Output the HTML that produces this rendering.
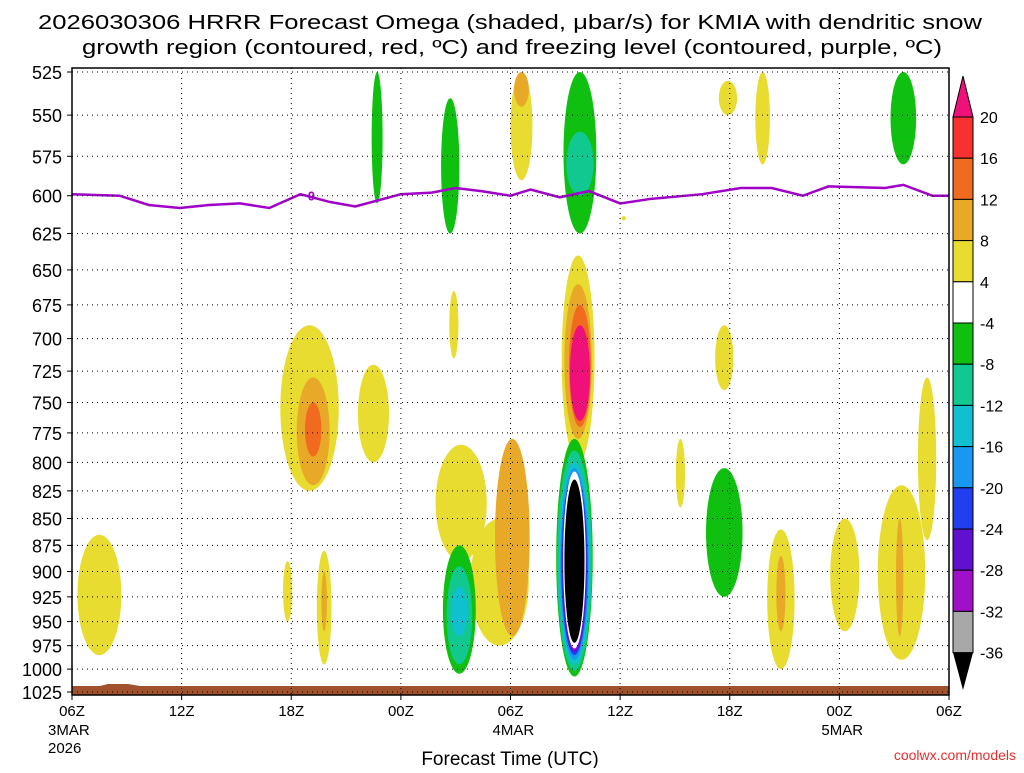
<!DOCTYPE html>
<html><head><meta charset="utf-8"><style>
body{margin:0;background:#fff;font-family:"Liberation Sans",sans-serif}
</style></head><body>
<svg id="c" width="1024" height="768" xmlns="http://www.w3.org/2000/svg">
<text x="510" y="29" font-size="20" text-anchor="middle" textLength="944" lengthAdjust="spacingAndGlyphs">2026030306 HRRR Forecast Omega (shaded, μbar/s) for KMIA with dendritic snow</text>
<text x="512" y="54" font-size="20" text-anchor="middle" textLength="860" lengthAdjust="spacingAndGlyphs">growth region (contoured, red, ºC) and freezing level (contoured, purple, ºC)</text>
<text x="510" y="765" font-size="19" text-anchor="middle">Forecast Time (UTC)</text>
<text x="1016" y="760" font-size="14" fill="#e03030" text-anchor="end">coolwx.com/models</text>
<g id="plot"></g>
</svg>
<script>
const hours=[0,6,12,18,24,30,36,42,48];
const hourLabels=["06Z","12Z","18Z","00Z","06Z","12Z","18Z","00Z","06Z"];
const pLevels=[525,550,575,600,625,650,675,700,725,750,775,800,825,850,875,900,925,950,975,1000,1025];
// blobs: hour center, top pressure, bottom pressure, half width (h), value
const blobHour=[1.5,13,13.2,13.2,16.5,21.3,23.4,24.1,21.2,21.2,21.2,16.7,20.7,24.6,24.6,27.7,27.7,27.8,27.8,27.8,27.8,27.5,27.5,27.5,27.5,27.5,27.5,27.5,35.7,38.8,38.8,42.3,45.4,46.8,45.5,45.3,35.9,35.7,33.3,20.9,11.8,13.8,13.8,37.8,30.2];
const blobPTop=[865,690,730,750,720,785,850,780,875,895,915,525,540,525,525,640,660,675,690,525,560,780,790,800,805,810,815,818,805,860,885,850,820,730,525,850,530,690,780,665,890,880,900,525,630];
const blobPBot=[985,825,820,795,800,890,975,965,1005,995,965,605,625,590,545,800,780,770,765,625,600,1008,1002,995,990,985,982,980,925,1000,960,960,990,870,580,965,550,740,840,715,950,995,960,580,600];
const blobHalfW=[1.2,1.6,0.9,0.45,0.85,1.4,1.6,0.95,0.9,0.7,0.45,0.3,0.5,0.6,0.4,0.9,0.75,0.6,0.55,0.9,0.75,1.0,0.95,0.85,0.78,0.72,0.66,0.6,1.0,0.75,0.25,0.8,1.3,0.5,0.7,0.2,0.5,0.5,0.25,0.25,0.25,0.4,0.15,0.4,0.12];
const blobVal=[6,6,10,14,6,6,6,10,-6,-10,-14,-6,-6,6,10,6,10,14,22,-6,-10,-6,-10,-14,-18,-22,-26,-30,-6,6,10,6,6,6,-6,10,6,6,6,6,6,6,10,6,6];
// freezing level (pressure) by hour
const fzHour=[0,2.6,4.2,5.9,7.5,9.2,10.8,12.5,14.1,15.5,18,19.7,21,22.4,24,25.1,26.7,28.3,30,31.7,34.5,36.6,38.3,40,41.4,44.5,45.5,47.1,48];
const fzP=[599,600,606,608,606,605,608,599,604,607,599,598,595,597,600,596,601,597,605,602,599,595,595,600,594,595,593,600,600];
const cbVals=[20,16,12,8,4,-4,-8,-12,-16,-20,-24,-28,-32,-36];

const L=72,R=949,T=68,B=695,Y0=72,Y1=692;
const x=h=>L+(R-L)*h/48;
const y=p=>Y0+(Math.log(p)-Math.log(525))/(Math.log(1025)-Math.log(525))*(Y1-Y0);
function col(v){
 if(v>20)return"#f0107a";if(v>16)return"#f83030";if(v>12)return"#f06a20";if(v>8)return"#e8a828";if(v>4)return"#e8dc30";
 if(v>-4)return"#ffffff";if(v>-8)return"#10c010";if(v>-12)return"#10c890";if(v>-16)return"#10c0d0";if(v>-20)return"#1898f0";
 if(v>-24)return"#2040f0";if(v>-28)return"#6010d0";if(v>-32)return"#a010c8";if(v>-36)return"#a8a8a8";return"#000000";}
const NS="http://www.w3.org/2000/svg";
const g=document.getElementById('plot');
function mk(t,a,p){const e=document.createElementNS(NS,t);for(const k in a)e.setAttribute(k,a[k]);(p||g).appendChild(e);return e;}
const defs=mk('defs',{});const cp=mk('clipPath',{id:'cl'},defs);mk('rect',{x:L,y:T,width:R-L,height:B-T},cp);
const bg=mk('g',{'clip-path':'url(#cl)'});
for(let i=0;i<blobHour.length;i++){
 const y1=y(blobPTop[i]),y2=y(blobPBot[i]);
 const e=mk('ellipse',{cx:x(blobHour[i]),cy:(y1+y2)/2,rx:blobHalfW[i]*(R-L)/48,ry:(y2-y1)/2,fill:col(blobVal[i])},bg);
 
 
}
{const e=mk('ellipse',{cx:x(27.5),cy:(y(808)+y(978))/2,rx:0.62*(R-L)/48,ry:(y(978)-y(808))/2,fill:'#fff'},bg);

const e2=mk('ellipse',{cx:x(27.5),cy:(y(815)+y(972))/2,rx:0.55*(R-L)/48,ry:(y(972)-y(815))/2,fill:'#000'},bg);
}
const gr=mk('path',{d:`M${L} 695 L${L} 686 L100 686 L108 684 L128 684 L140 686 L${R} 686 L${R} 695 Z`,fill:'#a0522d'},bg);

pLevels.forEach(p=>{
 const l=mk('line',{x1:L,x2:R,y1:y(p),y2:y(p),stroke:'#000','stroke-dasharray':'1 4','stroke-width':1});
 
 const t=mk('text',{x:62,y:y(p)+7,'font-size':18,'text-anchor':'end'});t.textContent=p;
 
 mk('line',{x1:L-5,x2:L,y1:y(p),y2:y(p),stroke:'#000'});
});
hours.forEach((h,i)=>{
 if(i>0&&i<hours.length-1){const l=mk('line',{x1:x(h),x2:x(h),y1:T,y2:B,stroke:'#000','stroke-dasharray':'1 4'});
 }
 mk('line',{x1:x(h),x2:x(h),y1:B,y2:B+5,stroke:'#000'});
 const t=mk('text',{x:x(h),y:716,'font-size':15,'text-anchor':'middle'});t.textContent=hourLabels[i];
 
});
[["3MAR",0],["2026",0],["4MAR",24],["5MAR",42]].forEach((d,i)=>{
 const t=mk('text',{x:x(d[1])-(i==0||i==1?24:18),y:i==1?753:735,'font-size':15});t.textContent=d[0];
 
});
let d='';fzHour.forEach((h,i)=>d+=(i?'L':'M')+x(h)+' '+y(fzP[i]));
const fz=mk('path',{d,fill:'none',stroke:'#a000c8','stroke-width':2.5},bg);

const fl=mk('text',{x:x(13.1),y:y(600)+5,'font-size':13,fill:'#a000c8','text-anchor':'middle','font-weight':'bold'});fl.textContent='0';

const fr=mk('rect',{x:L,y:T,width:R-L,height:B-T,fill:'none',stroke:'#000','stroke-width':1.5});

const cx0=953,cw=20,step=41.2,cy0=117;
const up=mk('path',{d:`M${cx0} ${cy0} L${cx0+cw/2} 76 L${cx0+cw} ${cy0} Z`,fill:col(22),stroke:'#000'});

for(let i=0;i<cbVals.length-1;i++){
 const r=mk('rect',{x:cx0,y:cy0+i*step,width:cw,height:step,fill:col(cbVals[i]-1),stroke:'#000'});
 
}
const yb=cy0+(cbVals.length-1)*step;
const dn=mk('path',{d:`M${cx0} ${yb} L${cx0+cw/2} 690 L${cx0+cw} ${yb} Z`,fill:'#000'});

cbVals.forEach((v,i)=>{const t=mk('text',{x:980,y:cy0+i*step+6,'font-size':16});t.textContent=v;
 });
</script>
</body></html>
